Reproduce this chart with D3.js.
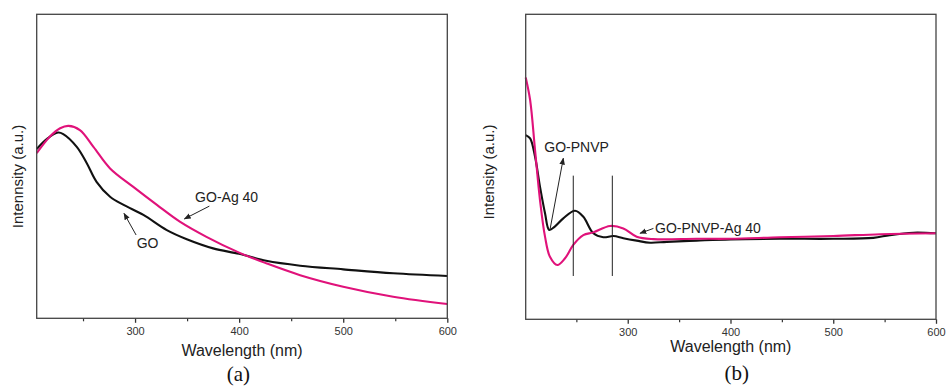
<!DOCTYPE html>
<html lang="en">
<head>
    <meta charset="utf-8">
    <title>UV-vis spectra</title>
    <style>
        body { margin: 0; background: #fff; }
        text { font-family: "Liberation Sans", Arial, sans-serif; }
        text.tag { font-family: "Liberation Serif", "Times New Roman", serif; }
    </style>
</head>
<body>
    <svg id="fig" width="946" height="387"></svg>
    <script src="https://cdn.jsdelivr.net/npm/d3@7"></script>
    <script>
        // wavelength (nm) / intensity (a.u.)
        const goWave = [205.5, 216, 226, 231, 244, 253.5, 263, 276, 289, 308, 330.5, 349.7, 375, 400, 426, 458.6, 500, 548, 600];
        const goInt  = [0.557, 0.592, 0.611, 0.606, 0.564, 0.511, 0.449, 0.400, 0.373, 0.340, 0.290, 0.260, 0.230, 0.212, 0.189, 0.173, 0.161, 0.148, 0.139];

        const goAgWave = [205.5, 218, 228, 236, 247, 260, 276, 298, 321, 343, 368.6, 400, 426, 458.6, 500, 548, 600];
        const goAgInt  = [0.543, 0.597, 0.625, 0.633, 0.619, 0.564, 0.493, 0.433, 0.373, 0.318, 0.268, 0.216, 0.181, 0.142, 0.104, 0.071, 0.047];

        const pnvpWave = [200.7, 205, 209.8, 214.6, 219.5, 223.6, 229, 237.3, 248.7, 256.8, 266.5, 276.2, 286, 295.7, 308.7, 321.7, 338, 367, 400, 448, 500, 539, 555, 578, 600];
        const pnvpInt  = [0.604, 0.593, 0.533, 0.435, 0.348, 0.293, 0.304, 0.331, 0.356, 0.336, 0.282, 0.269, 0.273, 0.266, 0.258, 0.251, 0.254, 0.258, 0.262, 0.264, 0.264, 0.267, 0.276, 0.284, 0.282];

        const pnvpAgWave = [200.7, 205, 209.8, 214.6, 219.5, 224.3, 231.5, 239, 247, 256.8, 266.5, 282.8, 295.7, 308.7, 325, 367, 400, 448, 500, 545.7, 600];
        const pnvpAgInt  = [0.793, 0.719, 0.555, 0.391, 0.271, 0.205, 0.178, 0.200, 0.244, 0.276, 0.285, 0.306, 0.298, 0.271, 0.263, 0.264, 0.264, 0.269, 0.273, 0.279, 0.282];

        const markerWave = [247, 285];
        const markerRange = [0.142, 0.471];

        const majorTicks = [300, 400, 500, 600];
        const minorTicks = [250, 350, 450, 550];

        const BLACK = "#111";
        const PINK = "#e0127a";

        const svg = d3.select("#fig");
        const defs = svg.append("defs");
        defs.append("marker")
            .attr("id", "head")
            .attr("viewBox", "0 0 10 10")
            .attr("refX", 9).attr("refY", 5)
            .attr("markerWidth", 7).attr("markerHeight", 7)
            .attr("markerUnits", "userSpaceOnUse")
            .attr("orient", "auto")
            .append("path")
                .attr("d", "M0,1 L10,5 L0,9 Z")
                .attr("fill", "#222");

        function zip(xs, ys) {
            return xs.map((x, i) => [x, ys[i]]);
        }

        function panel(opt) {
            const g = svg.append("g");
            const x = d3.scaleLinear().domain(opt.xDomain).range([opt.left, opt.right]);
            const y = d3.scaleLinear().domain([0, 1]).range([opt.bottom, opt.top]);

            const line = d3.line()
                .x(d => x(d[0]))
                .y(d => y(d[1]))
                .curve(d3.curveCatmullRom.alpha(0.5));

            // minor ticks
            g.append("g")
                .attr("transform", `translate(0,${opt.bottom})`)
                .call(d3.axisBottom(x).tickValues(minorTicks).tickSize(3).tickFormat(""))
                .call(a => a.select(".domain").remove())
                .call(a => a.selectAll("line").attr("stroke", "#333").attr("stroke-width", 1.2));

            // major ticks
            g.append("g")
                .attr("transform", `translate(0,${opt.bottom})`)
                .call(d3.axisBottom(x).tickValues(majorTicks).tickSize(4.5).tickPadding(4).tickFormat(d3.format("d")))
                .call(a => a.select(".domain").remove())
                .call(a => a.selectAll("line").attr("stroke", "#333").attr("stroke-width", 1.3))
                .call(a => a.selectAll("text")
                    .attr("font-size", 11)
                    .attr("fill", "#333"));

            opt.series.forEach(s => {
                g.append("path")
                    .datum(s.data)
                    .attr("fill", "none")
                    .attr("stroke", s.color)
                    .attr("stroke-width", 2.1)
                    .attr("stroke-linejoin", "round")
                    .attr("d", line);
            });

            (opt.markers || []).forEach(m => {
                g.append("line")
                    .attr("x1", x(m)).attr("x2", x(m))
                    .attr("y1", y(markerRange[0])).attr("y2", y(markerRange[1]))
                    .attr("stroke", "#222")
                    .attr("stroke-width", 1);
            });

            opt.notes.forEach(n => {
                g.append("line")
                    .attr("x1", x(n.from[0])).attr("y1", y(n.from[1]))
                    .attr("x2", x(n.to[0])).attr("y2", y(n.to[1]))
                    .attr("stroke", "#222")
                    .attr("stroke-width", 1)
                    .attr("marker-end", "url(#head)");
                g.append("text")
                    .attr("x", x(n.at[0])).attr("y", y(n.at[1]))
                    .attr("font-size", 14)
                    .attr("fill", "#222")
                    .text(n.text);
            });

            // frame
            g.append("rect")
                .attr("x", opt.left).attr("y", opt.top)
                .attr("width", opt.right - opt.left)
                .attr("height", opt.bottom - opt.top)
                .attr("fill", "none")
                .attr("stroke", "#444")
                .attr("stroke-width", 1.3);

            g.append("text")
                .attr("x", (opt.left + opt.right) / 2)
                .attr("y", opt.xLabelY)
                .attr("text-anchor", "middle")
                .attr("font-size", 16)
                .attr("fill", "#222")
                .text("Wavelength (nm)");

            g.append("text")
                .attr("transform", `translate(${opt.yLabelX},${opt.yLabelCy}) rotate(-90)`)
                .attr("text-anchor", "middle")
                .attr("font-size", 15)
                .attr("fill", "#222")
                .text(opt.yLabel);

            g.append("text")
                .attr("class", "tag")
                .attr("x", opt.tagX)
                .attr("y", opt.tagY)
                .attr("text-anchor", "middle")
                .attr("font-size", 21)
                .attr("fill", "#111")
                .text(opt.tag);
        }

        panel({
            left: 36.7, right: 447.3, top: 14.3, bottom: 318.3,
            xDomain: [205.5, 600],
            series: [
                { data: zip(goWave, goInt), color: BLACK },
                { data: zip(goAgWave, goAgInt), color: PINK }
            ],
            notes: [
                { text: "GO-Ag 40", at: [357.7, 0.384], from: [371.4, 0.369], to: [347.4, 0.327] },
                { text: "GO", at: [301.6, 0.232], from: [301, 0.274], to: [289.4, 0.345] }
            ],
            xLabelY: 355.5,
            yLabel: "Intennsity (a.u.)", yLabelX: 23, yLabelCy: 176.5,
            tag: "(a)", tagX: 238.3, tagY: 381
        });

        panel({
            left: 525.7, right: 936, top: 14.3, bottom: 319.3,
            xDomain: [200.7, 600],
            series: [
                { data: zip(pnvpWave, pnvpInt), color: BLACK },
                { data: zip(pnvpAgWave, pnvpAgInt), color: PINK }
            ],
            markers: markerWave,
            notes: [
                { text: "GO-PNVP", at: [218.8, 0.55], from: [224.3, 0.293], to: [237.3, 0.528] },
                { text: "GO-PNVP-Ag 40", at: [326.6, 0.284], from: [325, 0.298], to: [312, 0.282] }
            ],
            xLabelY: 352,
            yLabel: "Intensity (a.u.)", yLabelX: 494, yLabelCy: 172,
            tag: "(b)", tagX: 736.7, tagY: 380
        });
    </script>
</body>
</html>
